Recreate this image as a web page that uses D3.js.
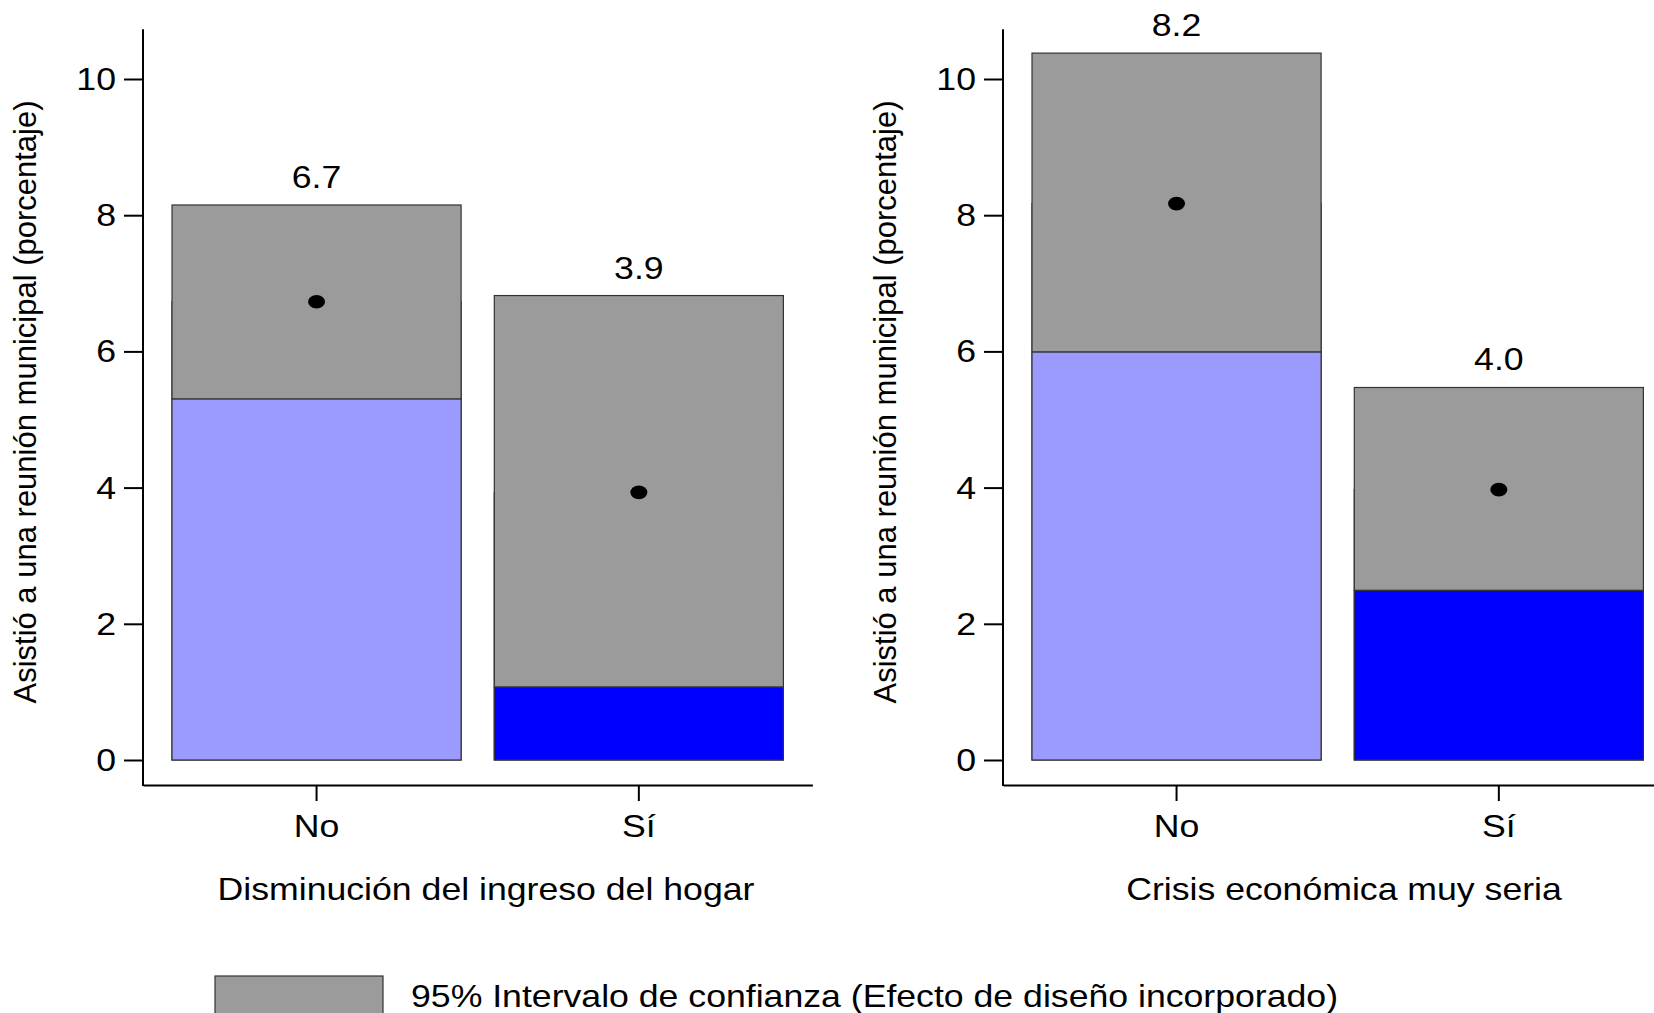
<!DOCTYPE html>
<html>
<head>
<meta charset="utf-8">
<script src="https://cdn.jsdelivr.net/npm/d3@7"></script>
<style>
  html, body { margin: 0; padding: 0; background: #fff; }
  svg { display: block; font-family: "Liberation Sans", Arial, sans-serif; }
</style>
</head>
<body>
<svg id="chart" width="1654" height="1013"></svg>
<script>
// ---- data ----
const categories = ["No", "Sí"];
const panelTitles = ["Disminución del ingreso del hogar", "Crisis económica muy seria"];
const meanIngreso = [6.73, 3.93];
const lowerIngreso = [5.30, 1.07];
const upperIngreso = [8.15, 6.82];
const meanCrisis = [8.17, 3.97];
const lowerCrisis = [5.99, 2.49];
const upperCrisis = [10.38, 5.47];
const yTicks = [0, 2, 4, 6, 8, 10];
const yTitle = "Asistió a una reunión municipal (porcentaje)";
const legendLabel = "95% Intervalo de confianza (Efecto de diseño incorporado)";

const panels = [
  { title: panelTitles[0], mean: meanIngreso, lower: lowerIngreso, upper: upperIngreso },
  { title: panelTitles[1], mean: meanCrisis, lower: lowerCrisis, upper: upperCrisis }
];

// ---- layout ----
const FS = 31;        // font size
const SX = 1.15;      // horizontal stretch of the original rendering
const svg = d3.select("#chart");
const catColor = d3.scaleOrdinal().domain(categories).range(["#9b9bff", "#0000ff"]);
const ciColor = "#9b9b9b";
const barStroke = "#333";
const y = d3.scaleLinear().domain([0, 10]).range([760, 79]);
const axisTopVal = 10.73;
const xAxisY = 785;
const panelX = [[143, 812.4], [1003, 1672.4]];
const titleX = [486, 1344];

// put a text at (x,y) with a horizontal stretch
function stretchText(sel, x, yy) {
  sel.attr("x", 0).attr("y", 0)
    .attr("transform", `translate(${x},${yy}) scale(${SX},1)`);
}

panels.forEach((p, pi) => {
  const g = svg.append("g");
  const x = d3.scaleBand().domain(categories).range(panelX[pi])
    .paddingInner(0.103).paddingOuter(0.09);
  const x0 = panelX[pi][0];

  const rows = categories.map((c, i) => ({ c, mean: p.mean[i], lo: p.lower[i], hi: p.upper[i] }));

  // mean bar underneath, CI gray over it, lower part colored
  g.selectAll("rect.mean").data(rows).join("rect").attr("class", "mean")
    .attr("x", d => x(d.c)).attr("width", x.bandwidth())
    .attr("y", d => y(d.mean)).attr("height", d => y(0) - y(d.mean))
    .attr("fill", d => catColor(d.c)).attr("stroke", barStroke).attr("stroke-width", 1.2);

  g.selectAll("rect.ci").data(rows).join("rect").attr("class", "ci")
    .attr("x", d => x(d.c)).attr("width", x.bandwidth())
    .attr("y", d => y(d.hi)).attr("height", d => y(d.lo) - y(d.hi))
    .attr("fill", ciColor).attr("stroke", barStroke).attr("stroke-width", 1.2);

  g.selectAll("rect.lo").data(rows).join("rect").attr("class", "lo")
    .attr("x", d => x(d.c)).attr("width", x.bandwidth())
    .attr("y", d => y(d.lo)).attr("height", d => y(0) - y(d.lo))
    .attr("fill", d => catColor(d.c)).attr("stroke", barStroke).attr("stroke-width", 1.2);

  // mean dots
  g.selectAll("ellipse").data(rows).join("ellipse")
    .attr("cx", d => x(d.c) + x.bandwidth() / 2).attr("cy", d => y(d.mean))
    .attr("rx", 8.5).attr("ry", 6.8).attr("fill", "#000");

  // value labels
  g.selectAll("text.val").data(rows).join("text").attr("class", "val")
    .attr("text-anchor", "middle").attr("font-size", FS).attr("fill", "#000")
    .text(d => d.mean.toFixed(1))
    .each(function (d) { stretchText(d3.select(this), x(d.c) + x.bandwidth() / 2, y(d.hi) - 17); });

  // y axis
  const ya = g.append("g").attr("transform", `translate(${x0},0)`)
    .call(d3.axisLeft(y).tickValues(yTicks).tickSize(19).tickPadding(8).tickFormat(d3.format("d")));
  ya.select(".domain").remove();
  ya.selectAll(".tick line").attr("stroke", "#000").attr("stroke-width", 2);
  ya.selectAll(".tick text").attr("font-size", FS).attr("fill", "#000")
    .attr("font-family", "Liberation Sans, Arial, sans-serif")
    .attr("dy", null)
    .each(function () { stretchText(d3.select(this), -27, 0.34 * FS); });
  g.append("line").attr("x1", x0).attr("x2", x0)
    .attr("y1", y(axisTopVal)).attr("y2", xAxisY + 1)
    .attr("stroke", "#000").attr("stroke-width", 2);

  // x axis
  const xa = g.append("g").attr("transform", `translate(0,${xAxisY})`)
    .call(d3.axisBottom(x).tickSize(16).tickSizeOuter(0).tickPadding(14));
  xa.select(".domain").attr("stroke", "#000").attr("stroke-width", 2);
  xa.selectAll(".tick line").attr("stroke", "#000").attr("stroke-width", 2);
  xa.selectAll(".tick text").attr("font-size", FS).attr("fill", "#000")
    .attr("font-family", "Liberation Sans, Arial, sans-serif")
    .attr("dy", null)
    .each(function () { stretchText(d3.select(this), 0, 52); });

  // x title
  g.append("text").attr("text-anchor", "middle").attr("font-size", FS).attr("fill", "#000")
    .text(p.title)
    .call(s => stretchText(s, titleX[pi], 900));

  // y title
  g.append("text")
    .attr("transform", `translate(${x0 - 107},402) rotate(-90)`)
    .attr("text-anchor", "middle").attr("font-size", FS).attr("fill", "#000")
    .text(yTitle);
});

// legend
const lg = svg.append("g");
lg.append("rect").attr("x", 215).attr("y", 976).attr("width", 168).attr("height", 60)
  .attr("fill", ciColor).attr("stroke", barStroke).attr("stroke-width", 1.2);
lg.append("text").attr("font-size", FS).attr("fill", "#000")
  .text(legendLabel)
  .call(s => stretchText(s, 411, 1007));
</script>
</body>
</html>
